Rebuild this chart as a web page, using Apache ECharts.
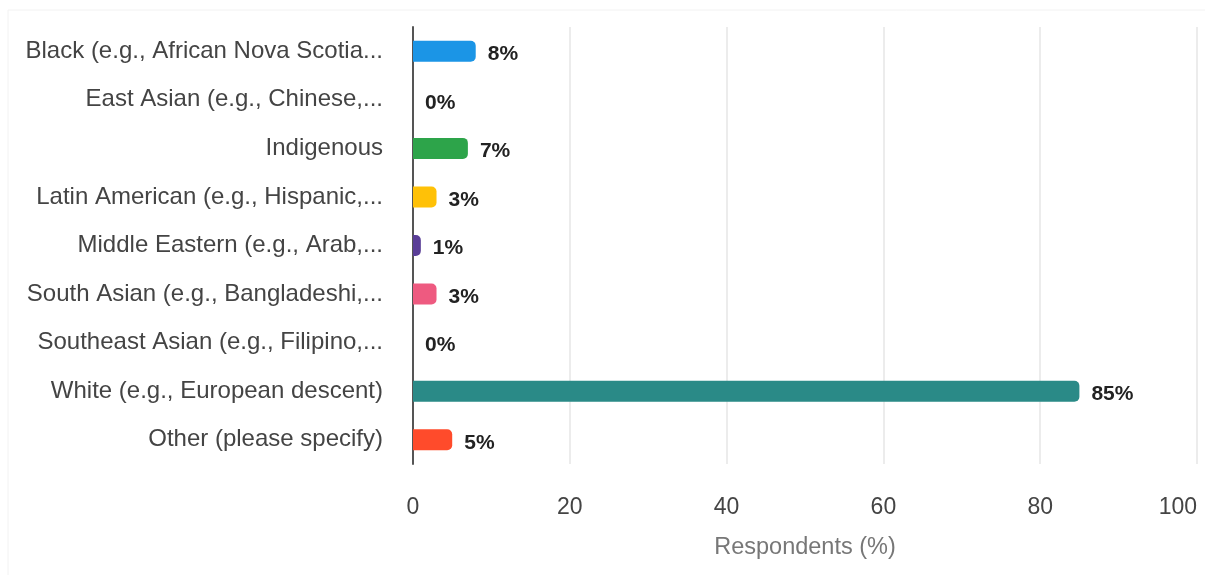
<!DOCTYPE html>
<html><head><meta charset="utf-8">
<script src="https://cdn.jsdelivr.net/npm/echarts@6/dist/echarts.min.js"></script>
<style>html,body{margin:0;padding:0;background:#fff;overflow:hidden}#c{width:1205px;height:575px}</style>
</head><body><div id="c"></div>
<script>
const categories = [
  "Black (e.g., African Nova Scotia...",
  "East Asian (e.g., Chinese,...",
  "Indigenous",
  "Latin American (e.g., Hispanic,...",
  "Middle Eastern (e.g., Arab,...",
  "South Asian (e.g., Bangladeshi,...",
  "Southeast Asian (e.g., Filipino,...",
  "White (e.g., European descent)",
  "Other (please specify)"
];
const values = [8, 0, 7, 3, 1, 3, 0, 85, 5];
const colors = ["#1B95E6", "#888888", "#2DA44A", "#FFC107", "#5A3E97", "#EE5A80", "#888888", "#2A8A87", "#FF4B2B"];
const xTicks = [0, 20, 40, 60, 80, 100];

const chart = echarts.init(document.getElementById('c'), null, {renderer: 'canvas'});
const font = '"Liberation Sans", Arial, sans-serif';
chart.setOption({
  animation: false,
  backgroundColor: '#fff',
  graphic: [{
    type: 'rect', shape: {x: 8, y: 10, width: 1220, height: 600},
    style: {fill: 'none', stroke: '#f2f2f2', lineWidth: 1}, silent: true, z: -10
  }],
  grid: {left: 413, right: 8, top: 27, bottom: 111, containLabel: false, outerBoundsMode: 'none'},
  xAxis: {
    type: 'value', min: xTicks[0], max: xTicks[xTicks.length - 1], interval: 20,
    name: 'Respondents (%)', nameLocation: 'middle', nameGap: 72,
    nameTextStyle: {color: '#777', fontSize: 23.5, fontFamily: font},
    axisLine: {show: false}, axisTick: {show: false},
    axisLabel: {color: '#444', fontSize: 23, fontFamily: font, margin: 32, alignMaxLabel: 'right'},
    splitLine: {show: true, lineStyle: {color: '#e6e6e6', width: 1.5}}
  },
  yAxis: {
    type: 'category', data: categories, inverse: true,
    axisLine: {show: true, lineStyle: {color: '#555', width: 2}},
    axisTick: {show: false},
    axisLabel: {color: '#444', fontSize: 24, fontFamily: font, margin: 30}
  },
  series: [{
    type: 'bar', barWidth: 21,
    data: values.map((v, i) => ({value: v, itemStyle: {color: colors[i]}})),
    itemStyle: {borderRadius: [0, 5, 5, 0]},
    label: {
      show: true, position: 'right', distance: 12,
      formatter: p => p.value + '%',
      color: '#222', fontWeight: 'bold', fontSize: 21, fontFamily: font,
      offset: [0, 3]
    }
  }]
});
</script></body></html>
